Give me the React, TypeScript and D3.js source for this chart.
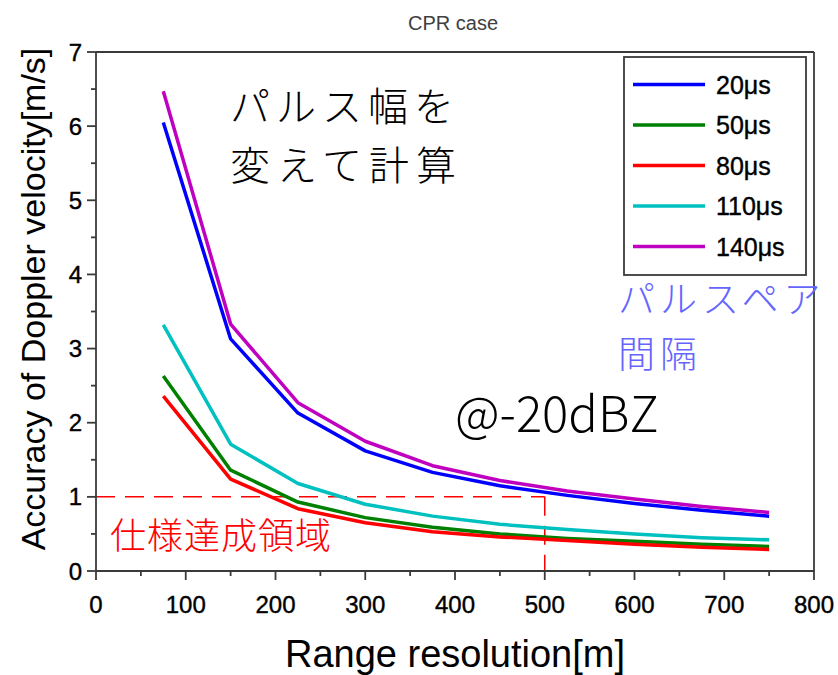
import React from "react";
import * as d3 from "d3";

const ranges = [75, 150, 225, 300, 375, 450, 525, 600, 675, 750];
const acc20 = [6.05, 3.13, 2.13, 1.62, 1.33, 1.15, 1.02, 0.91, 0.82, 0.74];
const acc50 = [2.63, 1.36, 0.93, 0.72, 0.59, 0.5, 0.44, 0.4, 0.36, 0.33];
const acc80 = [2.36, 1.24, 0.84, 0.65, 0.53, 0.46, 0.41, 0.36, 0.32, 0.29];
const acc110 = [3.32, 1.71, 1.18, 0.9, 0.74, 0.63, 0.56, 0.5, 0.45, 0.42];
const acc140 = [6.47, 3.33, 2.27, 1.75, 1.42, 1.22, 1.08, 0.97, 0.87, 0.79];

const seriesNames = ["20μs", "50μs", "80μs", "110μs", "140μs"];
const seriesColors = ["#0000ff", "#008000", "#ff0000", "#00c0c0", "#c000c0"];
const seriesValues = [acc20, acc50, acc80, acc110, acc140];
const drawOrder = [3, 1, 2, 0, 4];

const xTicks = [0, 100, 200, 300, 400, 500, 600, 700, 800];
const yTicks = [0, 1, 2, 3, 4, 5, 6, 7];
const xMinor = [50, 150, 250, 350, 450, 550, 650, 750];
const yMinor = [0.5, 1.5, 2.5, 3.5, 4.5, 5.5, 6.5];

const specValue = 1;
const specRange = 500;

const W = 838;
const H = 675;
const left = 96;
const right = 814;
const top = 52;
const bottom = 571;

export default function App() {
  const x = d3.scaleLinear().domain([0, 800]).range([left, right]);
  const y = d3.scaleLinear().domain([0, 7]).range([bottom, top]);
  const line = d3
    .line<[number, number]>()
    .x((d) => x(d[0]))
    .y((d) => y(d[1]));

  const axisColor = "#3a3a3a";
  const sans = "'Liberation Sans', Arial, sans-serif";
  const jp = "'Noto Sans CJK JP', sans-serif";

  return (
    <svg
      width={W}
      height={H}
      style={{ position: "absolute", left: 0, top: 0, background: "#fff" }}
    >
      <rect x={0} y={0} width={W} height={H} fill="#fff" />
      <text
        x={453}
        y={30}
        textAnchor="middle"
        fontFamily={sans}
        fontSize={20}
        fill="#404040"
      >
        CPR case
      </text>

      <line
        x1={x(0)}
        x2={x(specRange)}
        y1={y(specValue)}
        y2={y(specValue)}
        stroke="#ff0000"
        strokeWidth={1.5}
        strokeDasharray="19 10"
      />
      <line
        x1={x(specRange)}
        x2={x(specRange)}
        y1={y(specValue)}
        y2={y(0)}
        stroke="#ff0000"
        strokeWidth={1.5}
        strokeDasharray="19 10"
      />

      {drawOrder.map((i) => (
        <path
          key={seriesNames[i]}
          d={line(ranges.map((r, k) => [r, seriesValues[i][k]] as [number, number])) || ""}
          fill="none"
          stroke={seriesColors[i]}
          strokeWidth={3.5}
          strokeLinejoin="round"
        />
      ))}

      <line x1={left} x2={right} y1={top} y2={top} stroke={axisColor} strokeWidth={1.8} />
      <line x1={right} x2={right} y1={top} y2={bottom} stroke={axisColor} strokeWidth={1.8} />
      <line x1={left} x2={right} y1={bottom} y2={bottom} stroke={axisColor} strokeWidth={1.8} />
      <line x1={left} x2={left} y1={top} y2={bottom} stroke={axisColor} strokeWidth={1.8} />

      {xTicks.map((t) => (
        <g key={"xt" + t}>
          <line x1={x(t)} x2={x(t)} y1={bottom} y2={bottom + 9} stroke={axisColor} strokeWidth={1.8} />
          <text
            x={x(t)}
            y={613}
            textAnchor="middle"
            fontFamily={sans}
            fontSize={24}
            stroke="#000"
            strokeWidth={0.4}
            fill="#000"
          >
            {t}
          </text>
        </g>
      ))}
      {xMinor.map((t) => (
        <line key={"xm" + t} x1={x(t)} x2={x(t)} y1={bottom} y2={bottom + 5} stroke={axisColor} strokeWidth={1.8} />
      ))}
      {yTicks.map((t) => (
        <g key={"yt" + t}>
          <line x1={left - 9} x2={left} y1={y(t)} y2={y(t)} stroke={axisColor} strokeWidth={1.8} />
          <text
            x={82}
            y={y(t) + 8.5}
            textAnchor="end"
            fontFamily={sans}
            fontSize={24}
            stroke="#000"
            strokeWidth={0.4}
            fill="#000"
          >
            {t}
          </text>
        </g>
      ))}
      {yMinor.map((t) => (
        <line key={"ym" + t} x1={left - 5} x2={left} y1={y(t)} y2={y(t)} stroke={axisColor} strokeWidth={1.8} />
      ))}

      <text
        x={455}
        y={667}
        textAnchor="middle"
        fontFamily={sans}
        fontSize={38}
        fill="#000"
      >
        Range resolution[m]
      </text>
      <text
        transform={`translate(45,299) rotate(-90)`}
        textAnchor="middle"
        fontFamily={sans}
        fontSize={34}
        fill="#000"
      >
        Accuracy of Doppler velocity[m/s]
      </text>

      <rect x={624} y={57} width={182} height={218} fill="#fff" stroke={axisColor} strokeWidth={1.8} />
      {seriesNames.map((n, i) => (
        <g key={"lg" + n}>
          <line
            x1={633}
            x2={705}
            y1={84.5 + i * 40.5}
            y2={84.5 + i * 40.5}
            stroke={seriesColors[i]}
            strokeWidth={3.5}
          />
          <text
            x={716}
            y={84.5 + i * 40.5 + 9}
            fontFamily={sans}
            fontSize={25}
            stroke="#000"
            strokeWidth={0.4}
            fill="#000"
          >
            {n}
          </text>
        </g>
      ))}

      <text x={230} y={121} fontFamily={jp} fontWeight={300} fontSize={40} letterSpacing={6} fill="#000">
        パルス幅を
      </text>
      <text x={230} y={180} fontFamily={jp} fontWeight={300} fontSize={40} letterSpacing={7} fill="#000">
        変えて計算
      </text>
      <text x={455} y={432} fontFamily={jp} fontWeight={300} fontSize={49} fill="#000">
        @-20dBZ
      </text>
      <text x={618} y={313} fontFamily={jp} fontWeight={300} fontSize={37} letterSpacing={5} fill="#6666ff">
        パルスペア
      </text>
      <text x={618} y={368} fontFamily={jp} fontWeight={300} fontSize={37} letterSpacing={5} fill="#6666ff">
        間隔
      </text>
      <text x={110} y={549} fontFamily={jp} fontWeight={300} fontSize={36} letterSpacing={1} fill="#ff0000">
        仕様達成領域
      </text>
    </svg>
  );
}
